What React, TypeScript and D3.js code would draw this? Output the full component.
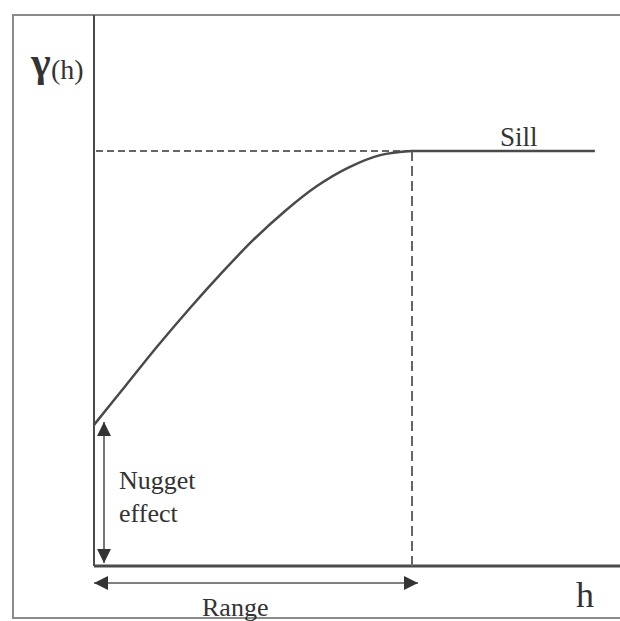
import React, { useEffect, useRef } from "react";
import * as d3 from "d3";

// lag distance h (range = 10) and semivariance (sill = 1)
const lagValues = [0, 1, 2, 3, 4, 5, 6, 7, 8, 9, 10];
const gammaValues = [0.34, 0.435, 0.53, 0.62, 0.705, 0.785, 0.855, 0.915, 0.96, 0.99, 1.0];
const nugget = 0.34;
const sill = 1.0;
const rangeH = 10;
const sillEndH = 15.75;
const labels = { yAxis: "γ", yArg: "(h)", xAxis: "h", sill: "Sill", nugget: ["Nugget", "effect"], range: "Range" };

const W = 620;
const H = 621;

const App = () => {
  const ref = useRef<SVGSVGElement | null>(null);

  useEffect(() => {
    const svg = d3.select(ref.current);
    svg.selectAll("*").remove();

    const x = d3.scaleLinear().domain([0, 16.54]).range([94, 620]);
    const y = d3.scaleLinear().domain([0, 1]).range([566, 151]);
    const ink = "#4a4a4a";
    const font = "Liberation Serif, Times New Roman, serif";

    // arrow heads
    const defs = svg.append("defs");
    defs.append("marker")
      .attr("id", "head")
      .attr("viewBox", "0 0 10 10")
      .attr("refX", 10).attr("refY", 5)
      .attr("markerWidth", 14).attr("markerHeight", 14)
      .attr("markerUnits", "userSpaceOnUse")
      .attr("orient", "auto-start-reverse")
      .append("path")
      .attr("d", "M0,0 L10,5 L0,10 Z")
      .attr("fill", "#333");

    // outer frame
    svg.append("path")
      .attr("d", `M${W},15 L13,15 L13,618 L${W},618`)
      .attr("fill", "none")
      .attr("stroke", "#8a8a8a")
      .attr("stroke-width", 2);

    // axes
    svg.append("line")
      .attr("x1", x(0)).attr("x2", x(0))
      .attr("y1", 15).attr("y2", y(0))
      .attr("stroke", ink).attr("stroke-width", 2);
    svg.append("line")
      .attr("x1", x(0)).attr("x2", W)
      .attr("y1", y(0)).attr("y2", y(0))
      .attr("stroke", ink).attr("stroke-width", 3);

    // sill: dashed up to the range, solid after
    svg.append("line")
      .attr("x1", x(0) + 2).attr("x2", x(rangeH))
      .attr("y1", y(sill)).attr("y2", y(sill))
      .attr("stroke", "#666").attr("stroke-width", 2)
      .attr("stroke-dasharray", "7,4");
    svg.append("line")
      .attr("x1", x(rangeH)).attr("x2", x(sillEndH))
      .attr("y1", y(sill)).attr("y2", y(sill))
      .attr("stroke", ink).attr("stroke-width", 2.5);

    // range marker
    svg.append("line")
      .attr("x1", x(rangeH)).attr("x2", x(rangeH))
      .attr("y1", y(sill)).attr("y2", y(0))
      .attr("stroke", "#666").attr("stroke-width", 2)
      .attr("stroke-dasharray", "10,5");

    // variogram curve
    const line = d3.line<number>()
      .x((_, i) => x(lagValues[i]))
      .y((d) => y(d))
      .curve(d3.curveCatmullRom.alpha(0.5));
    svg.append("path")
      .datum(gammaValues)
      .attr("d", line)
      .attr("fill", "none")
      .attr("stroke", ink)
      .attr("stroke-width", 2.5);

    // nugget arrow
    svg.append("line")
      .attr("x1", x(0) + 10).attr("x2", x(0) + 10)
      .attr("y1", y(nugget) - 3).attr("y2", y(0) - 3)
      .attr("stroke", "#555").attr("stroke-width", 1.6)
      .attr("marker-start", "url(#head)")
      .attr("marker-end", "url(#head)");

    // range arrow
    svg.append("line")
      .attr("x1", x(0)).attr("x2", x(rangeH) + 6)
      .attr("y1", 583).attr("y2", 583)
      .attr("stroke", "#555").attr("stroke-width", 1.6)
      .attr("marker-start", "url(#head)")
      .attr("marker-end", "url(#head)");

    const txt = (t: string, tx: number, ty: number, size: number, weight = "normal") =>
      svg.append("text")
        .attr("x", tx).attr("y", ty)
        .style("font-family", font)
        .style("font-size", `${size}px`)
        .style("font-weight", weight)
        .attr("fill", "#333")
        .text(t);

    txt(labels.yAxis, 31, 76, 42, "bold");
    txt(labels.yArg, 51, 79, 28);
    txt(labels.sill, 500, 146, 27);
    txt(labels.nugget[0], 119, 489, 26);
    txt(labels.nugget[1], 119, 522, 26);
    txt(labels.range, 202, 616, 26);
    txt(labels.xAxis, 576, 607, 36);
  }, []);

  return (
    <svg
      ref={ref}
      width={W}
      height={H}
      style={{ position: "absolute", left: 0, top: 0, background: "#fff" }}
    />
  );
};

export default App;
